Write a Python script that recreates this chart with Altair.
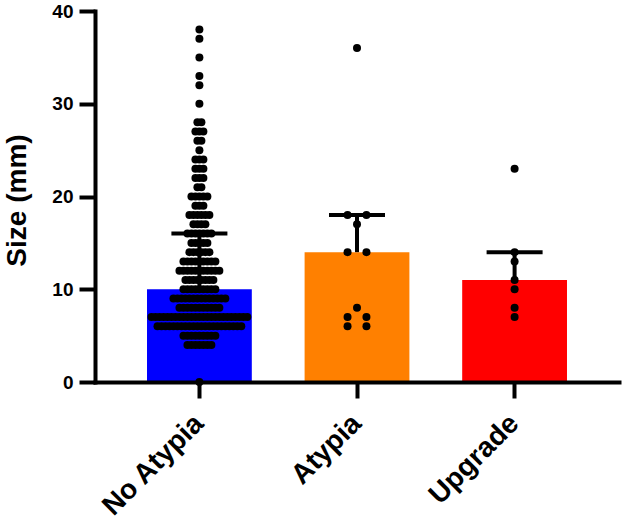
import altair as alt
import numpy as np
import pandas as pd

# ---------------- data ----------------
categories = ["No Atypia", "Atypia", "Upgrade"]
bar_colors = ["#0000FF", "#FF8000", "#FF0000"]

# No Atypia: distinct sizes (mm) and how many lesions had each size
no_atypia_values = [0, 4, 5, 6, 7, 8, 9, 10, 11, 12, 13, 14, 15, 16, 17, 18, 19,
                    20, 21, 22, 23, 24, 25, 26, 27, 28, 30, 32, 33, 35, 37, 38]
no_atypia_counts = [1, 7, 9, 22, 25, 11, 14, 9, 8, 11, 9, 6, 5, 7, 4, 6, 3,
                    5, 2, 3, 3, 3, 1, 2, 3, 2, 1, 1, 1, 1, 1, 1]
atypia_sizes = [6, 6, 7, 7, 8, 14, 14, 17, 18, 18, 36]
upgrade_sizes = [7, 8, 10, 11, 13, 14, 23]

y_ticks = [0, 10, 20, 30, 40]

# ---------------- layout constants ----------------
WIDTH, HEIGHT = 524, 371
PAD_INNER, PAD_OUTER = 0.335, 0.33
DOT_D = 9
FONT = "Liberation Sans"
step = WIDTH / (len(categories) - PAD_INNER + 2 * PAD_OUTER)
BW = step * (1 - PAD_INNER)

groups = {
    "No Atypia": np.repeat(no_atypia_values, no_atypia_counts),
    "Atypia": np.array(atypia_sizes),
    "Upgrade": np.array(upgrade_sizes),
}

# scatter (beeswarm-like rows) + median / Q3 summary
pts = []
summ = []
for cat, vals in groups.items():
    uniq, cnt = np.unique(vals, return_counts=True)
    spacing = min(2.1 * DOT_D, (BW - DOT_D) / max(cnt.max() - 1, 1))
    for v, n in zip(uniq, cnt):
        for k in range(n):
            pts.append({"group": cat, "size": float(v),
                        "offset": (k - (n - 1) / 2) * spacing})
    summ.append({"group": cat,
                 "median": float(np.percentile(vals, 50, method="weibull")),
                 "q3": float(np.percentile(vals, 75, method="weibull"))})

pts_df = pd.DataFrame(pts)
summ_df = pd.DataFrame(summ)

# ---------------- encodings ----------------
x_axis = alt.Axis(labelAngle=-45, labelAlign="right", labelBaseline="middle",
                  labelFontSize=28, labelFontWeight="bold", labelFont=FONT,
                  labelColor="black", labelPadding=21, tickSize=16, tickWidth=4,
                  tickColor="black", domainColor="black", domainWidth=4,
                  domainCap="square", zindex=1, title=None)
x = alt.X("group:N", sort=categories,
          scale=alt.Scale(domain=categories, paddingInner=PAD_INNER,
                          paddingOuter=PAD_OUTER),
          axis=x_axis)

y_axis = alt.Axis(values=y_ticks, labelFontSize=19, labelFontWeight="bold",
                  labelFont=FONT, labelColor="black", labelPadding=6,
                  tickSize=16, tickWidth=4, tickColor="black",
                  domainColor="black", domainWidth=4, domainCap="square",
                  grid=False, zindex=1,
                  titleFontSize=28, titleFontWeight="bold", titleFont=FONT,
                  titleColor="black", titleX=-78, titleY=189,
                  titleBaseline="middle")
y_scale = alt.Scale(domain=[0, 40], nice=False)

bars = alt.Chart(summ_df).mark_bar(width=BW).encode(
    x=x,
    y=alt.Y("median:Q", scale=y_scale, axis=y_axis, title="Size (mm)"),
    color=alt.Color("group:N", scale=alt.Scale(domain=categories, range=bar_colors),
                    legend=None),
)

stems = alt.Chart(summ_df).mark_rule(color="black", strokeWidth=4).encode(
    x=x,
    y=alt.Y("median:Q", scale=y_scale, title="Size (mm)"),
    y2="q3:Q",
)

caps = alt.Chart(summ_df).mark_tick(color="black", size=56, thickness=4,
                                    opacity=1).encode(
    x=x,
    y=alt.Y("q3:Q", scale=y_scale, title="Size (mm)"),
)

dots = alt.Chart(pts_df).mark_circle(size=64, color="black", opacity=1).encode(
    x=x,
    xOffset=alt.XOffset("offset:Q",
                        scale=alt.Scale(domain=[-BW / 2, BW / 2], range=[0, BW])),
    y=alt.Y("size:Q", scale=y_scale, title="Size (mm)"),
)

chart = alt.layer(bars, stems, caps, dots).properties(
    width=WIDTH,
    height=HEIGHT,
    padding={"left": 95, "top": 11, "right": 3, "bottom": 140},
    autosize=alt.AutoSizeParams(type="none"),
    background="white",
).configure_view(stroke=None)

chart.save("out.html", embed_options={"renderer": "svg", "actions": False})
